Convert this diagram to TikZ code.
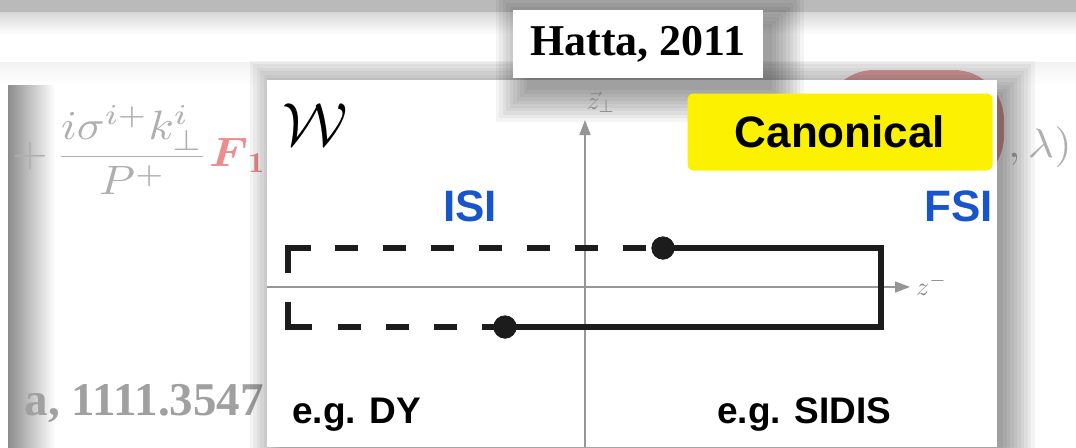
\documentclass[tikz,border=0pt]{standalone}
\usepackage{amsmath}
\usepackage{graphicx}
\usepackage{fontspec}
\newfontfamily\sansf{Liberation Sans}
\newfontfamily\seriff{Liberation Serif}
\usetikzlibrary{arrows.meta}
\definecolor{fgray}{RGB}{175,175,175}
\definecolor{tgray}{RGB}{160,160,160}
\definecolor{fred}{RGB}{236,140,140}
\definecolor{pinkbg}{RGB}{222,160,160}
\definecolor{isiblue}{RGB}{24,84,204}
\definecolor{hiyellow}{RGB}{252,242,0}
\definecolor{axisgray}{RGB}{150,150,150}
\definecolor{pathblack}{RGB}{28,28,28}
\tikzset{
  pathline/.style={line width=6pt, draw=pathblack, line join=miter},
  dashline/.style={pathline, dash pattern=on 23pt off 25pt},
  dotnode/.style={circle, fill=pathblack, minimum size=23pt, inner sep=0pt},
  axisline/.style={draw=axisgray, line width=1.6pt},
  axisarrow/.style={axisline, -{Triangle[length=15pt,width=11pt]}},
  sansbig/.style={font=\sansf\bfseries\fontsize{44pt}{48pt}\selectfont},
  sansmid/.style={font=\sansf\bfseries\fontsize{37pt}{40pt}\selectfont},
  shadowlayer/.style={fill=black, opacity=0.042},
}
\begin{document}
\begin{tikzpicture}[x=1pt,y=-1pt]
\useasboundingbox (0,0) rectangle (1076,447);
\fill[white] (0,0) rectangle (1076,447);
% top band
\fill[black!27] (0,0) rectangle (1076,12);
\shade[top color=black!16, bottom color=white] (0,12) rectangle (1076,34);
% left panel and its shadow
\shade[top color=black!5, bottom color=white] (0,62) rectangle (1076,85);
\fill[white] (0,85) rectangle (8,447);
\shade[left color=black!45, right color=white] (8,85) rectangle (55,447);
% background formula (mostly hidden)
\begin{scope}
\clip (0,60) rectangle (266,447);
\node[anchor=west, text=fgray, inner sep=0pt] (frm) at (12,150)
  {\scalebox{4.6}[4.1]{$+\,\dfrac{i\sigma^{i+}k^i_\perp}{P^+}\textcolor{fred}{\boldsymbol{F}_{\mathbf{1},}}$}};
\node[anchor=base east, text=tgray, font=\seriff\bfseries\fontsize{47pt}{50pt}\selectfont, inner sep=0pt] (ref) at (264,415) {a, 1111.3547};
\end{scope}
\node[anchor=east, text=fgray, inner sep=0pt] (lam) at (1072,147) {\scalebox{4.5}[4.1]{$,\lambda)$}};
% pink highlight behind
\fill[pinkbg] (824,70) [rounded corners=50pt] rectangle (1004,186);
% panel shadow
\foreach \k in {0,...,9} {
  \fill[shadowlayer] (281-3.5*\k, 92-3.5*\k) rectangle (1003+3.5*\k, 470);
}
% main panel
\fill[white] (267,80) rectangle (997,447);
% Hatta box shadow
\foreach \k in {0,...,9} {
  \fill[shadowlayer] (527-3.5*\k, 24-3.5*\k) rectangle (772+3.5*\k, 90+3.5*\k);
}
\node[fill=white, minimum width=250pt, minimum height=68pt, inner sep=0pt,
      font=\seriff\bfseries\fontsize{44pt}{48pt}\selectfont] (hatta) at (638,44) {Hatta, 2011};
% axes
\coordinate (hx0) at (267,287);
\coordinate (hx1) at (910,287);
\coordinate (vy0) at (585,447);
\coordinate (vy1) at (585,120);
\draw[axisarrow] (hx0) -- (hx1);
\draw[axisarrow] (vy0) -- (vy1);
\node[anchor=west, text=axisgray!90!black, inner sep=0pt] (zminus) at (916,285) {\scalebox{2.6}{$z^-$}};
\node[text=axisgray!90!black, inner sep=0pt] (zperp) at (601,102) {\scalebox{2.5}{$\vec{z}_\perp$}};
% labels
\node[inner sep=0pt] (W) at (315,125) {\scalebox{6.1}{$\mathcal{W}$}};
\node[fill=hiyellow, rounded corners=6pt, minimum width=305pt, minimum height=77pt, inner sep=0pt, sansbig] (canon) at (840,132) {Canonical};
\node[sansbig, text=isiblue, inner sep=0pt] (isi) at (470,206) {ISI};
\node[sansbig, text=isiblue, inner sep=0pt, anchor=east] (fsi) at (993,206) {FSI};
\node[sansmid, anchor=base west, inner sep=0pt] (dy) at (292,423) {e.g. DY};
\node[sansmid, anchor=base west, inner sep=0pt] (sidis) at (717,423) {e.g. SIDIS};
% Wilson line path
\coordinate (ULb) at (288,273);
\coordinate (ULc) at (288,248);
\coordinate (ULe) at (311,248);
\coordinate (UDs) at (335,248);
\coordinate (UDe) at (646,248);
\node[dotnode] (dU) at (663,248) {};
\coordinate (UR) at (881,248);
\coordinate (LR) at (881,327);
\node[dotnode] (dL) at (505,327) {};
\coordinate (LDe) at (338,327);
\coordinate (LLe) at (312,327);
\coordinate (LLc) at (288,327);
\coordinate (LLb) at (288,302);
\draw[pathline] (ULb) -- (ULc) -- (ULe);
\draw[dashline] (UDs) -- (UDe);
\draw[pathline] (dU.center) -- (UR) -- (LR) -- (dL.center);
\draw[dashline] (dL.center) -- (LDe);
\draw[pathline] (LLe) -- (LLc) -- (LLb);
\node[dotnode] at (dU) {};
\node[dotnode] at (dL) {};
\end{tikzpicture}
\end{document}
